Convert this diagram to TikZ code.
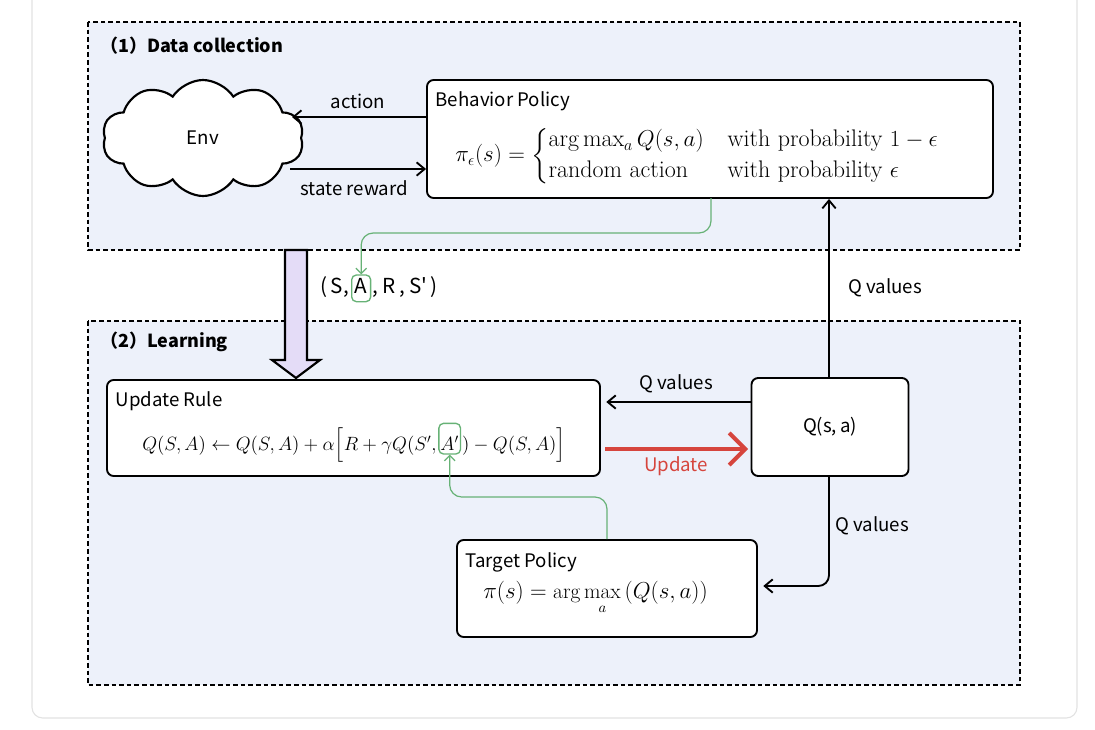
\documentclass[tikz,border=0pt]{standalone}
\usepackage{amsmath}
\usepackage{fontspec}
\newfontfamily\lab{Noto Sans CJK SC}
\usetikzlibrary{arrows.meta,shapes.symbols}
\definecolor{panel}{HTML}{EDF1FA}
\definecolor{gline}{HTML}{67B276}
\definecolor{upd}{HTML}{D6453D}
\definecolor{purp}{HTML}{E4DCF7}
\definecolor{cardline}{HTML}{E2E2E2}
\begin{document}
\begin{tikzpicture}[x=0.75pt,y=-0.75pt,
  every node/.style={font=\lab\fontsize{14}{17}\selectfont},
  panelbox/.style={draw=black, fill=panel, line width=1.4pt, dash pattern=on 3.5pt off 2.2pt},
  card/.style={draw=black, fill=white, line width=1.4pt, rounded corners=5pt},
  conn/.style={line width=1.4pt, -{Straight Barb[length=6pt,width=10pt,line width=1.4pt]}},
  gconn/.style={draw=gline, line width=0.9pt, rounded corners=9pt, -{Straight Barb[length=4pt,width=8pt,line width=0.9pt]}},
  gbox/.style={draw=gline, line width=1pt, rounded corners=3.5pt},
  lbl/.style={inner sep=1pt},
  tuplef/.style={font=\lab\fontsize{15.5}{19}\selectfont},
  mathf/.style={font=\fontsize{#1}{19}\selectfont, inner sep=0pt},
  mathf/.default=14.6
]
\useasboundingbox (0,0) rectangle (1095,729);
\fill[white] (0,0) rectangle (1095,729);
\draw[cardline, fill=white, line width=0.8pt, rounded corners=8pt] (32,-20) rectangle (1077,718);

% panels
\draw[panelbox] (88,22) rectangle (1020,250);
\draw[panelbox] (88,321) rectangle (1020,685);
\node[anchor=west, font=\lab\bfseries\fontsize{13.5}{16}\selectfont, inner sep=0pt] (t1) at (100,46) {（1）Data collection};
\node[anchor=west, font=\lab\bfseries\fontsize{13.5}{16}\selectfont, inner sep=0pt] (t2) at (100,342) {（2）Learning};

% env cloud
\node[cloud, cloud puffs=10, cloud puff arc=115, aspect=1.75, draw=black, fill=white, line width=1.6pt,
      minimum width=151pt, minimum height=87pt, inner sep=0pt] (env) at (203,138) {};
\node (envt) at (env.center) {Env};

% behavior policy
\node[card, minimum width=566*0.75pt, minimum height=118*0.75pt] (bp) at (710,139) {};
\node[anchor=west, lbl] (bpt) at (434,101) {Behavior Policy};
\node[mathf=18, anchor=west] (bpf) at (455,156) {$\pi_\epsilon(s) = \begin{cases} \arg\max_a Q(s,a) & \text{with probability } 1-\epsilon \\ \text{random action} & \text{with probability } \epsilon\end{cases}$};

\coordinate (envR1) at (292,117);
\coordinate (envR2) at (290,169);
\draw[conn] (bp.west |- envR1) -- (envR1);
\draw[conn] (envR2) -- (bp.west |- envR2);
\node[lbl] (la) at (358,101) {action};
\node[lbl] (lsr) at (354,188) {state reward};

% tuple
\node[inner sep=0pt, anchor=base west, tuplef] (tp1) at (320,293) {(\,S,};
\node[inner xsep=2.4pt, inner ysep=0.5pt, anchor=base west, gbox, tuplef] (tpA) at ([xshift=1.5pt]tp1.base east) {\rule[-6pt]{0pt}{19pt}A};
\node[inner sep=0pt, anchor=base west, tuplef] (tp2) at ([xshift=1pt]tpA.base east) {,\hspace{3pt}R\hspace{3pt},\hspace{3pt}S'\hspace{2.5pt})};

% green from behavior to A
\coordinate (g1) at (711,198);
\draw[gconn] (g1) -- (711,233) -- (tpA.north |- 0,233) -- (tpA.north);

% purple arrow
\draw[fill=purp, line width=1.6pt, line join=miter] (285,250) -- (307,250) -- (307,360) -- (320,360) -- (296,378) -- (272,360) -- (285,360) -- cycle;

% update rule
\node[card, minimum width=493*0.75pt, minimum height=96*0.75pt] (ur) at (353.5,428) {};
\node[anchor=west, lbl] (urt) at (114,401) {Update Rule};
\node[mathf, anchor=base west] (urf1) at (142,450) {$Q(S,A) \leftarrow Q(S,A) + \alpha\Big[R+\gamma Q(S',$};
\node[mathf, anchor=base west, gbox, inner xsep=1.2pt, inner ysep=0.5pt] (urA) at ([xshift=1pt]urf1.base east) {$\rule[-2.5pt]{0pt}{22pt}A'$};
\node[mathf, anchor=base west] (urf2) at ([xshift=0.5pt]urA.base east) {$) - Q(S,A)\Big]$};

% Q box
\node[card, minimum width=157*0.75pt, minimum height=98*0.75pt] (qb) at (830,427) {Q(s,\,a)};

% target policy
\node[card, minimum width=300*0.75pt, minimum height=97*0.75pt] (tpb) at (607,588.5) {};
\node[anchor=west, lbl] (tpt) at (464,562) {Target Policy};
\node[mathf=16, anchor=base west] (tpf) at (483,598) {$\displaystyle \pi(s) = \arg\max_a\,(Q(s,a))$};

% connectors
\coordinate (qv) at (752,402);
\draw[conn] (qv) -- ([xshift=4pt]ur.east |- qv);
\node[lbl] (lqv1) at (676,384) {Q values};
\coordinate (uu) at (605,449);
\draw[upd, line width=3pt, -{Straight Barb[length=12pt,width=24pt,line width=3pt]}] (uu) -- (748,449);
\node[lbl, text=upd] (lupd) at (676,466) {Update};

\coordinate (qx) at (829,0);
\draw[conn] (qb.north -| qx) -- (bp.south -| qx);
\node[lbl] (lqv2) at (885,288) {Q values};
\draw[conn, rounded corners=8pt] (qb.south -| qx) -- (829,586) -- ([xshift=4pt]tpb.east |- 0,586);
\node[lbl] (lqv3) at (872,526) {Q values};

\coordinate (g2) at (607,540);
\draw[gconn] (tpb.north -| g2) -- (607,497) -- (urA.south |- 0,497) -- (urA.south);
\end{tikzpicture}
\end{document}
